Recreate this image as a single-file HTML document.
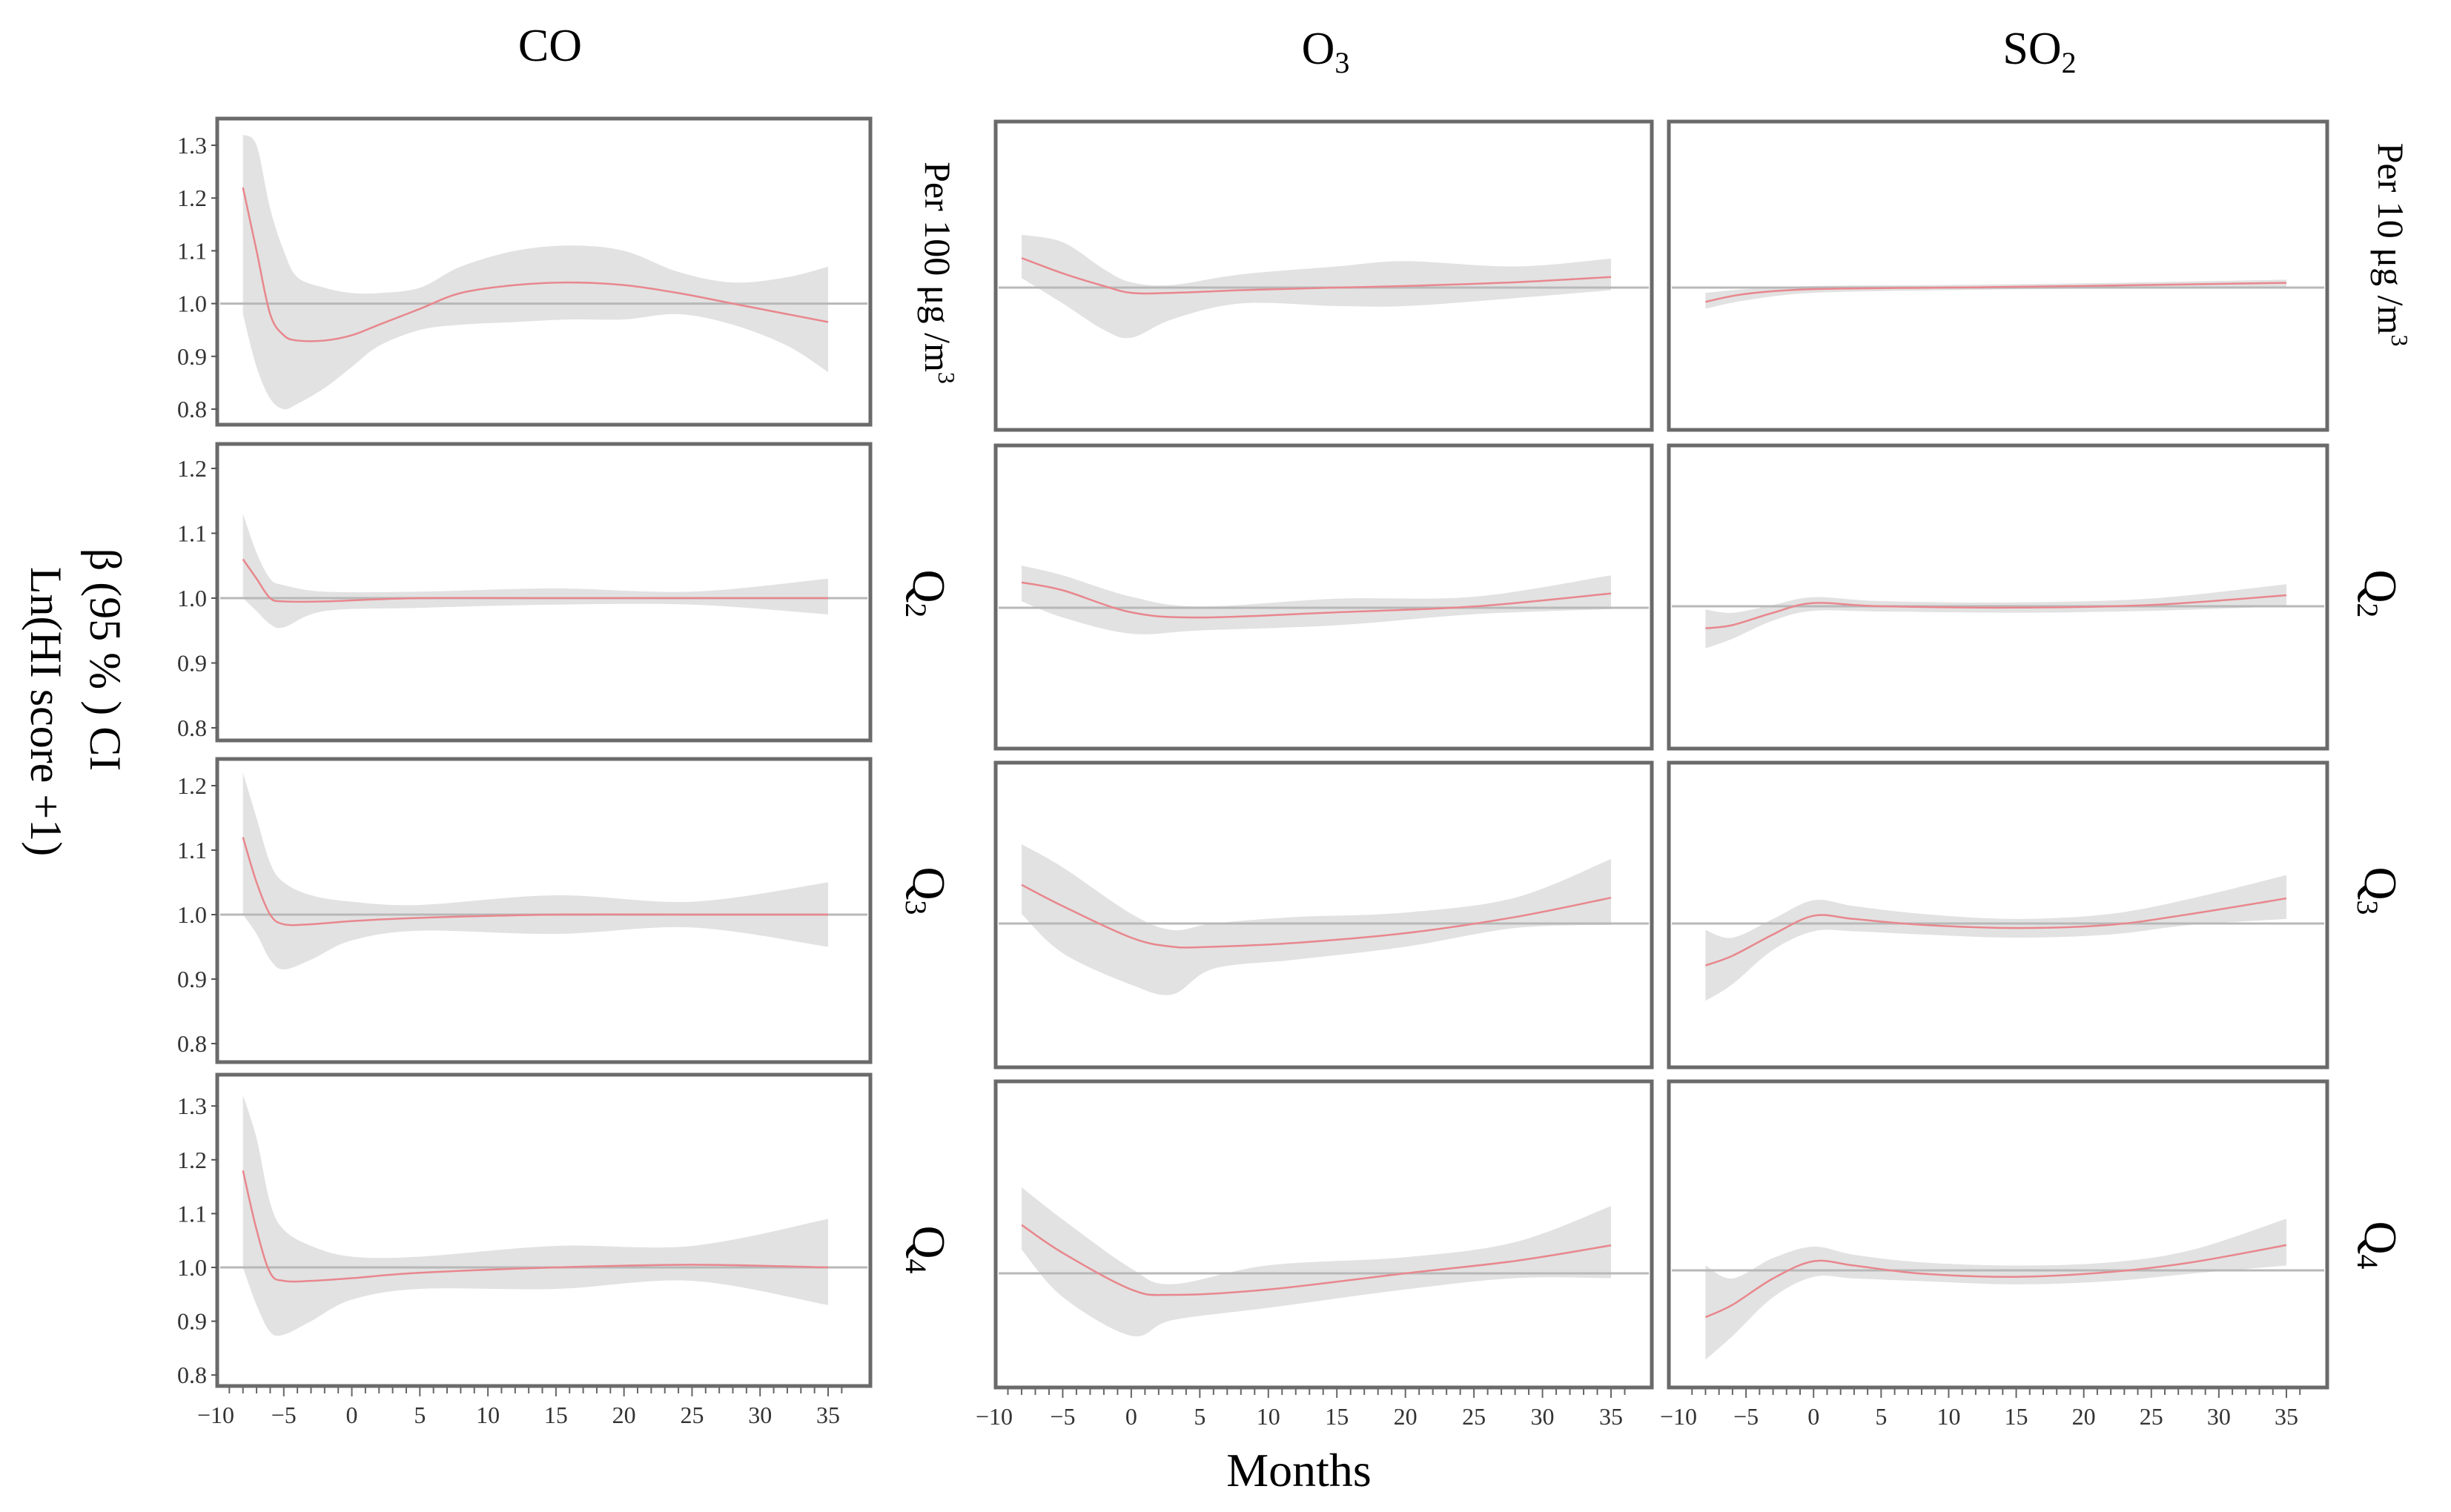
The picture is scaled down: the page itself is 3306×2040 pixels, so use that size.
<!DOCTYPE html>
<html><head><meta charset="utf-8">
<style>
html,body{margin:0;padding:0;background:#fff;}
svg{display:block;}
text{font-family:"Liberation Serif","DejaVu Serif",serif;}
</style></head>
<body>
<svg id="chart" width="3306" height="2040" viewBox="0 0 3306 2040" xmlns="http://www.w3.org/2000/svg">
<g id="titles">
<text x="742" y="82" font-size="62" text-anchor="middle">CO</text>
<text x="1788" y="86" font-size="62" text-anchor="middle">O<tspan font-size="40" dy="12">3</tspan></text>
<text x="2751" y="86" font-size="62" text-anchor="middle">SO<tspan font-size="40" dy="12">2</tspan></text>
<text x="1752" y="2005" font-size="64" text-anchor="middle">Months</text>
<g transform="translate(122,890) rotate(90)"><text x="0" y="0" font-size="60" text-anchor="middle">β (95 % ) CI</text></g>
<g transform="translate(42,960) rotate(90)"><text x="0" y="0" font-size="60" text-anchor="middle">Ln(HI score +1)</text></g>
<g transform="translate(1248,368) rotate(90)"><text x="0" y="0" font-size="50" text-anchor="middle">Per 100 μg /m<tspan font-size="32" dy="-18">3</tspan></text></g>
<g transform="translate(3208,330) rotate(90)"><text x="0" y="0" font-size="50" text-anchor="middle">Per 10 μg /m<tspan font-size="32" dy="-18">3</tspan></text></g>
<g transform="translate(1232,801) rotate(90)"><text x="0" y="0" font-size="62" text-anchor="middle">Q<tspan font-size="40" dy="10">2</tspan></text></g>
<g transform="translate(1232,1202) rotate(90)"><text x="0" y="0" font-size="62" text-anchor="middle">Q<tspan font-size="40" dy="10">3</tspan></text></g>
<g transform="translate(1232,1686) rotate(90)"><text x="0" y="0" font-size="62" text-anchor="middle">Q<tspan font-size="40" dy="10">4</tspan></text></g>
<g transform="translate(3190,801) rotate(90)"><text x="0" y="0" font-size="62" text-anchor="middle">Q<tspan font-size="40" dy="10">2</tspan></text></g>
<g transform="translate(3190,1202) rotate(90)"><text x="0" y="0" font-size="62" text-anchor="middle">Q<tspan font-size="40" dy="10">3</tspan></text></g>
<g transform="translate(3190,1680) rotate(90)"><text x="0" y="0" font-size="62" text-anchor="middle">Q<tspan font-size="40" dy="10">4</tspan></text></g>
</g>
<g id="plots"></g>
</svg>
<script>
const xTickLabels=[-10,-5,0,5,10,15,20,25,30,35];
const yTicksRow1=[0.8,0.9,1.0,1.1,1.2,1.3];
const yTicksRow2=[0.8,0.9,1.0,1.1,1.2];
const yTicksRow3=[0.8,0.9,1.0,1.1,1.2];
const yTicksRow4=[0.8,0.9,1.0,1.1,1.2,1.3];

const co1X=[-8,-7,-6,-5,-4,-2,0,2,5,8,12,16,20,24,28,32,35];
const co1Est=[1.22,1.10,0.98,0.94,0.93,0.93,0.94,0.96,0.99,1.02,1.035,1.04,1.035,1.02,1.0,0.98,0.965];
const co1Lo=[0.98,0.88,0.82,0.80,0.81,0.84,0.88,0.92,0.95,0.96,0.965,0.97,0.97,0.98,0.96,0.92,0.87];
const co1Hi=[1.32,1.30,1.18,1.10,1.05,1.03,1.02,1.02,1.03,1.07,1.10,1.11,1.10,1.06,1.04,1.05,1.07];

const co2X=[-8,-7,-6,-5,-2,5,15,25,35];
const co2Est=[1.06,1.03,1.0,0.995,0.995,1.0,1.0,1.0,1.0];
const co2Lo=[1.0,0.98,0.96,0.955,0.98,0.985,0.99,0.99,0.975];
const co2Hi=[1.13,1.07,1.03,1.02,1.01,1.01,1.015,1.01,1.03];

const co3X=[-8,-7,-6,-5,-3,0,5,15,25,35];
const co3Est=[1.12,1.05,1.0,0.985,0.985,0.99,0.995,1.0,1.0,1.0];
const co3Lo=[1.0,0.97,0.93,0.915,0.93,0.96,0.975,0.97,0.98,0.95];
const co3Hi=[1.22,1.15,1.08,1.05,1.03,1.02,1.015,1.03,1.02,1.05];

const co4X=[-8,-7,-6,-5,-3,0,5,15,25,35];
const co4Est=[1.18,1.07,0.99,0.975,0.975,0.98,0.99,1.0,1.005,1.0];
const co4Lo=[1.0,0.93,0.88,0.875,0.9,0.94,0.96,0.96,0.975,0.93];
const co4Hi=[1.32,1.24,1.12,1.07,1.04,1.02,1.02,1.04,1.04,1.09];

const o31X=[-8,-5,-2,0,3,8,15,20,28,35];
const o31Est=[1.056,1.027,1.003,0.99,0.99,0.995,1.0,1.003,1.01,1.02];
const o31Lo=[1.018,0.97,0.92,0.905,0.94,0.97,0.965,0.965,0.98,0.995];
const o31Hi=[1.10,1.086,1.035,1.01,1.005,1.025,1.04,1.05,1.04,1.055];

const o32X=[-8,-5,0,5,15,25,35];
const o32Est=[1.039,1.027,0.993,0.985,0.993,1.002,1.022];
const o32Lo=[1.01,0.985,0.96,0.965,0.973,0.99,0.998];
const o32Hi=[1.065,1.05,1.017,1.002,1.014,1.017,1.05];

const o33X=[-8,-5,0,3,6,12,20,28,35];
const o33Est=[1.06,1.027,0.978,0.964,0.964,0.97,0.985,1.01,1.04];
const o33Lo=[1.015,0.954,0.905,0.89,0.93,0.944,0.964,0.993,0.998];
const o33Hi=[1.123,1.087,1.015,0.99,1.0,1.01,1.017,1.04,1.10];

const o34X=[-8,-5,0,3,10,20,28,35];
const o34Est=[1.09,1.038,0.97,0.96,0.97,1.0,1.023,1.052];
const o34Lo=[1.044,0.956,0.884,0.913,0.936,0.97,0.991,0.991];
const o34Hi=[1.16,1.10,1.009,0.98,1.015,1.03,1.058,1.125];

const so21X=[-8,-5,0,10,20,35];
const so21Est=[0.973,0.988,0.997,1.0,1.003,1.009];
const so21Lo=[0.96,0.976,0.99,0.995,0.998,1.0];
const so21Hi=[0.99,0.997,1.003,1.005,1.008,1.015];

const so22X=[-8,-6,-3,0,5,15,25,35];
const so22Est=[0.966,0.971,0.99,1.005,1.0,0.998,1.002,1.017];
const so22Lo=[0.935,0.95,0.978,0.993,0.992,0.99,0.993,1.0];
const so22Hi=[0.995,0.99,1.002,1.014,1.008,1.006,1.012,1.034];

const so23X=[-8,-6,-3,0,3,8,15,22,28,35];
const so23Est=[0.935,0.95,0.983,1.012,1.007,0.998,0.993,0.998,1.015,1.039];
const so23Lo=[0.88,0.906,0.959,0.988,0.988,0.983,0.978,0.983,0.998,1.007];
const so23Hi=[0.99,0.978,1.007,1.036,1.027,1.015,1.007,1.015,1.039,1.075];

const so24X=[-8,-6,-3,0,3,8,15,22,28,35];
const so24Est=[0.913,0.936,0.985,1.017,1.009,0.994,0.988,0.997,1.015,1.047];
const so24Lo=[0.834,0.878,0.95,0.988,0.985,0.98,0.974,0.98,0.994,1.009];
const so24Hi=[1.009,0.985,1.023,1.044,1.029,1.015,1.009,1.015,1.038,1.096];

const NS='http://www.w3.org/2000/svg';
const root=document.getElementById('plots');
function mk(tag,attrs,parent){const e=document.createElementNS(NS,tag);for(const k in attrs)e.setAttribute(k,attrs[k]);(parent||root).appendChild(e);return e;}
function xScale(col){const c=[{x0:291,x35:1117},{x0:1341,x35:2173},{x0:2264,x35:3084}][col];return v=>c.x0+(v+10)*(c.x35-c.x0)/45;}
function yScale(ref,per){return v=>ref-(v-1)*10*per;}
function smooth(pts){let d='M'+pts[0][0]+','+pts[0][1];for(let i=0;i<pts.length-1;i++){const p0=pts[Math.max(0,i-1)],p1=pts[i],p2=pts[i+1],p3=pts[Math.min(pts.length-1,i+2)];const c1=[p1[0]+(p2[0]-p0[0])/6,p1[1]+(p2[1]-p0[1])/6],c2=[p2[0]-(p3[0]-p1[0])/6,p2[1]-(p3[1]-p1[1])/6];d+=' C'+c1[0]+','+c1[1]+' '+c2[0]+','+c2[1]+' '+p2[0]+','+p2[1];}return d;}
function smoothBack(pts){const d=smooth(pts);return d.replace(/^M/,'L');}

const panels=[
 {name:'co-per100',col:0,box:[293,160,1174,573],ref:409.6,per:71.2,ticks:yTicksRow1,X:co1X,E:co1Est,L:co1Lo,H:co1Hi},
 {name:'co-q2',col:0,box:[293,599,1174,999],ref:807,per:87.5,ticks:yTicksRow2,X:co2X,E:co2Est,L:co2Lo,H:co2Hi},
 {name:'co-q3',col:0,box:[293,1024,1174,1433],ref:1234,per:87,ticks:yTicksRow3,X:co3X,E:co3Est,L:co3Lo,H:co3Hi},
 {name:'co-q4',col:0,box:[293,1450,1174,1870],ref:1710,per:72.6,ticks:yTicksRow4,X:co4X,E:co4Est,L:co4Lo,H:co4Hi,xlab:true},
 {name:'o3-per100',col:1,box:[1343,164,2228,580],ref:388,per:71.2,X:o31X,E:o31Est,L:o31Lo,H:o31Hi},
 {name:'o3-q2',col:1,box:[1343,601,2228,1010],ref:820,per:87.5,X:o32X,E:o32Est,L:o32Lo,H:o32Hi},
 {name:'o3-q3',col:1,box:[1343,1029,2228,1440],ref:1246,per:87,X:o33X,E:o33Est,L:o33Lo,H:o33Hi},
 {name:'o3-q4',col:1,box:[1343,1459,2228,1872],ref:1718,per:72.6,X:o34X,E:o34Est,L:o34Lo,H:o34Hi,xlab:true},
 {name:'so2-per10',col:2,box:[2251,164,3139,580],ref:388,per:71.2,X:so21X,E:so21Est,L:so21Lo,H:so21Hi},
 {name:'so2-q2',col:2,box:[2251,601,3139,1010],ref:818,per:87.5,X:so22X,E:so22Est,L:so22Lo,H:so22Hi},
 {name:'so2-q3',col:2,box:[2251,1029,3139,1440],ref:1246,per:87,X:so23X,E:so23Est,L:so23Lo,H:so23Hi},
 {name:'so2-q4',col:2,box:[2251,1459,3139,1872],ref:1714,per:72.6,X:so24X,E:so24Est,L:so24Lo,H:so24Hi,xlab:true}
];

panels.forEach(p=>{
 const g=mk('g',{});
 
 
 const xs=xScale(p.col),ys=yScale(p.ref,p.per);
 const [x0,y0,x1,y1]=p.box;
 const up=p.X.map((v,i)=>[xs(v),ys(p.H[i])]);
 const dn=p.X.map((v,i)=>[xs(v),ys(p.L[i])]).reverse();
 const band=mk('path',{d:smooth(up)+' '+smoothBack(dn)+' Z',fill:'#e2e2e2',stroke:'none'},g);
 
 
 const rl=mk('line',{x1:x0+4,x2:x1-4,y1:p.ref,y2:p.ref,stroke:'#b8b8b8','stroke-width':3},g);
 
 
 const est=mk('path',{d:smooth(p.X.map((v,i)=>[xs(v),ys(p.E[i])])),fill:'none',stroke:'#e8878d','stroke-width':2.5},g);
 
 
 const fr=mk('rect',{x:x0,y:y0,width:x1-x0,height:y1-y0,fill:'none',stroke:'#6a6a6a','stroke-width':5},g);
 
 
 if(p.ticks){p.ticks.forEach(t=>{
   const y=ys(t);
   mk('line',{x1:x0-8,x2:x0,y1:y,y2:y,stroke:'#555','stroke-width':2},g);
   const tx=mk('text',{x:x0-14,y:y+11,'font-size':32,'text-anchor':'end',fill:'#333'},g);
   
   
   tx.textContent=t.toFixed(1);
 });}
 if(p.xlab){
   for(let m=-9;m<=36;m++){const x=xs(m);mk('line',{x1:x,x2:x,y1:y1+2,y2:y1+(m%5===0?14:10),stroke:'#666','stroke-width':2},g);}
   xTickLabels.forEach(t=>{
     const tx=mk('text',{x:xs(t),y:y1+50,'font-size':32,'text-anchor':'middle',fill:'#333'},g);
     
     
     tx.textContent=t<0?'−'+Math.abs(t):String(t);
   });
 }
});
</script>
</body></html>
